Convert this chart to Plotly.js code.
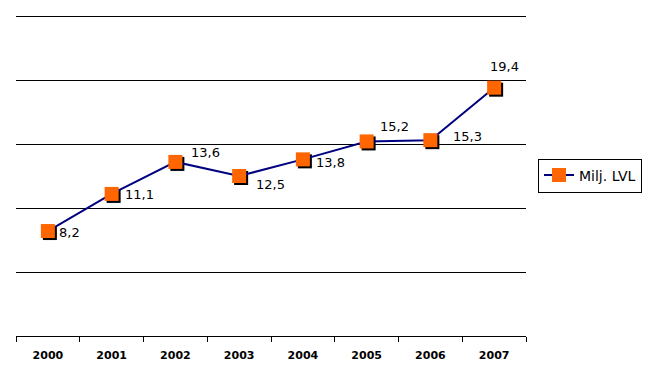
<!DOCTYPE html>
<html>
<head>
<meta charset="utf-8">
<script src="https://cdn.plot.ly/plotly-3.0.1.min.js"></script>
<style>
  html, body { margin: 0; padding: 0; background: #fff; }
  #chart { width: 655px; height: 384px; }
</style>
</head>
<body>
<div id="chart"></div>
<script>
// ---- data ----
const years = ['2000', '2001', '2002', '2003', '2004', '2005', '2006', '2007'];
const values = [8.2, 11.1, 13.6, 12.5, 13.8, 15.2, 15.3, 19.4];
const valueLabels = ['8,2', '11,1', '13,6', '12,5', '13,8', '15,2', '15,3', '19,4'];
const seriesName = 'Milj. LVL';

// ---- label placement (pixel offsets of each value label from its marker) ----
const labelDx = [22, 28, 30, 31, 28, 28, 37, 10];
const labelDy = [-1, -1, 9, -8, -3, 15, 4, 21];

const FONT = 'DejaVu Sans, Verdana, sans-serif';
const W = 655, H = 384;
const mL = 16, mR = 127, mT = 14, mB = 46;
const pw = W - mL - mR;   // 512
const ph = H - mT - mB;   // 324
const sh = 2;             // shadow offset px
const yMax = 25.15625;    // top gridline (25) sits 2px inside the plot area

// shadow trace (black squares drawn in a subplot shifted 2px right/down)
const shadow = {
  x: years, y: values, type: 'scatter', mode: 'markers',
  xaxis: 'x', yaxis: 'y',
  marker: { symbol: 'square', size: 14, color: '#000000', line: { width: 0 } },
  showlegend: false, hoverinfo: 'skip'
};

const main = {
  x: years, y: values, type: 'scatter', mode: 'lines+markers',
  name: seriesName,
  xaxis: 'x2', yaxis: 'y2',
  line: { color: '#000080', width: 2 },
  marker: { symbol: 'square', size: 14, color: '#FF6600', line: { width: 0 } }
};

// value labels: x given as category index on the category axis
const annotations = years.map((yr, i) => ({
  x: i, y: values[i], xref: 'x2', yref: 'y2',
  text: valueLabels[i], showarrow: false,
  xanchor: 'center', yanchor: 'middle',
  xshift: labelDx[i], yshift: labelDy[i],
  font: { family: FONT, size: 13, color: '#000000' }
}));

const hiddenCommon = {
  showgrid: false, zeroline: false, showline: false,
  showticklabels: false, ticks: '', fixedrange: true
};

const layout = {
  width: W, height: H,
  margin: { l: mL, r: mR, t: mT, b: mB, pad: 0 },
  paper_bgcolor: '#ffffff',
  plot_bgcolor: 'rgba(0,0,0,0)',
  showlegend: true,
  font: { family: FONT, color: '#000000' },
  xaxis: Object.assign({}, hiddenCommon, {
    type: 'category', range: [-0.5, years.length - 0.5],
    domain: [sh / pw, 1], anchor: 'y'
  }),
  yaxis: Object.assign({}, hiddenCommon, {
    range: [0, yMax], domain: [0, 1 - sh / ph], anchor: 'x'
  }),
  xaxis2: {
    type: 'category', range: [-0.5, years.length - 0.5],
    domain: [0, 1 - sh / pw], anchor: 'y2',
    showline: true, linecolor: '#000000', linewidth: 1,
    showgrid: false, zeroline: false,
    ticks: 'outside', tickson: 'boundaries', ticklen: 5, tickwidth: 1, tickcolor: '#000000',
    ticklabelstandoff: 9,
    tickfont: { family: FONT, size: 11, weight: 'bold', color: '#000000' },
    fixedrange: true
  },
  yaxis2: {
    range: [0, yMax], dtick: 5, tick0: 0,
    domain: [sh / ph, 1], anchor: 'x2',
    showgrid: true, gridcolor: '#000000', gridwidth: 1,
    zeroline: false, showline: false, showticklabels: false, ticks: '',
    fixedrange: true
  },
  legend: {
    x: (538 - mL) / pw, xanchor: 'left',
    y: ((H - mB) - 175.5) / ph, yanchor: 'middle',
    bordercolor: '#000000', borderwidth: 1, bgcolor: '#ffffff',
    font: { family: FONT, size: 14, color: '#000000' }
  },
  annotations: annotations
};

Plotly.newPlot('chart', [shadow, main], layout, { displayModeBar: false, staticPlot: true });
</script>
</body>
</html>
